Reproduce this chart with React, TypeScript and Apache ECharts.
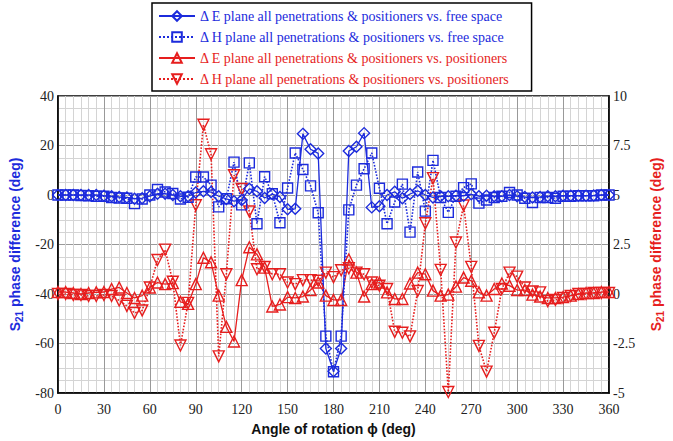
import React, { useEffect, useRef } from "react";
import * as echarts from "echarts";

const angles: number[] = Array.from({ length: 73 }, (_, i) => i * 5);

const eFreeSpace: number[] = [
  0, 0, 0, 0, 0, 0, -0.3, -0.5, -0.8, -1, -1.5, -1.3, -0.5, 0.5, 0.5, 0, -0.5, -0.5, 1, 1.5,
  1.2, -0.5, -1.6, -2.5, -2, 2.5, 1.5, -1.2, 0.4, -0.8, -5.8, -5.6, 24.7, 18.5, 16.8, -62, -71.2,
  -62, 17.8, 19.5, 25, -5, -4.5, 0, 1.3, -1.3, 0.4, 1.7, 0, -1, -0.5, -0.5, -0.3, -0.3, 0.3,
  -0.5, -0.3, -0.5, -0.5, 0, -0.5, -0.8, -1, -0.8, -0.5, -0.5, -0.3, -0.3, -0.3, -0.3, -0.2, 0, 0,
];

const hFreeSpace: number[] = [
  0, 0, 0, -0.2, -0.3, -0.5, -0.5, -1, -1.2, -1.3, -3.5, -1.6, 0, 2.2, 1.2, 0.6, -1.6, -0.9, 7.3,
  7.3, 4, -4.8, -1.5, 13.3, -4, 13, -11.6, 7.4, 0.5, -11.2, 2.8, 17, 10.3, 3.7, -7.2, -57, -71.4,
  -57, -6, 4, 10.6, 17, 2.7, -11.6, -2.8, 4.4, -15, 9.3, -6.5, 14, -1, -7, -0.5, 3, 4.5, -3.3, -2,
  -1, -0.5, 1, 0, -1.3, -3, -1, -1, -1.3, -0.5, -0.5, -0.3, -0.3, -0.3, 0, 0,
];

const ePositioners: number[] = [
  0.1, 0.1, 0.05, 0, 0.05, 0.08, 0.1, 0.25, 0.33, 0.05, -0.2, -0.08, 0.33, 0.58, 0.5, 0.55, -0.4,
  -0.5, 0.5, 1.83, 1.6, -0.08, -1.66, -2.4, 0.7, 2.36, 2, 1.33, -0.63, -0.53, -0.16, -0.2, -0.13,
  0.2, 0.58, -0.08, -0.3, -0.3, 1.74, 1.08, -0.13, 0.5, 0.58, 0.08, -0.25, -0.25, 0.53, 1.08, 1,
  0.17, -0.08, -0.03, 0.37, 0.83, 0.67, 0.08, -0.08, 0.25, 0.53, 0.42, 0.2, 0.2, -0.03, -0.13,
  -0.2, -0.2, -0.16, -0.08, 0, 0.05, 0.05, 0.1, 0.1,
];

const hPositioners: number[] = [
  0, 0, -0.05, -0.05, -0.1, -0.1, -0.05, -0.1, -0.33, -0.6, -0.96, -0.83, 0.33, 1.72, 2.24, 0.62,
  -2.6, -0.45, 4.48, 8.55, 7.06, -3.15, 1, 6, 5.3, 4.17, 1.25, 1.36, 1, 1, 0.58, 0.5, 0.7, 0.7,
  0.67, 1.08, 0.85, 1.2, 1.3, 1.08, 1, 0.58, 0.42, 0.25, -1.91, -1.96, -2.14, 0.15, 3.57, 5.85,
  1.22, -4.95, 2.6, 4.47, 1.37, -2.62, -3.92, -1.96, 0.25, 1.08, 0.88, 0.33, 0.13, 0.08, -0.36,
  -0.3, -0.2, -0.1, 0, 0, 0.05, 0.05, 0.05,
];

const seriesNames: string[] = [
  "Δ E plane all penetrations & positioners vs. free space",
  "Δ H plane all penetrations & positioners vs. free space",
  "Δ E plane all penetrations & positioners vs. positioners",
  "Δ H plane all penetrations & positioners vs. positioners",
];

const BLUE = "#1c2bdc";
const RED = "#e61e1e";
const SERIF = "Times New Roman";
const SANS = "Liberation Sans";

const zip = (vals: number[]) => angles.map((a, i) => [a, vals[i]]);

export default function App() {
  const ref = useRef<HTMLDivElement>(null);
  useEffect(() => {
    if (!ref.current) return;
    const chart = echarts.init(ref.current, null, { renderer: "svg" });
    const nameRich = (color: string) => ({
      a: { fontFamily: SANS, fontWeight: "bold", fontSize: 14, color },
      b: { fontFamily: SANS, fontWeight: "bold", fontSize: 10, color, verticalAlign: "bottom", padding: [8, 0, 0, 0] },
    });
    const labelStyle = { fontFamily: SERIF, fontSize: 14, color: "#222" };
    const mk = (
      idx: number,
      color: string,
      symbol: string,
      rotate: number,
      dotted: boolean,
      yAxisIndex: number,
      vals: number[],
      size: number
    ) => ({
      name: seriesNames[idx],
      type: "line",
      yAxisIndex,
      data: zip(vals),
      symbol,
      symbolSize: size,
      symbolRotate: rotate,
      showAllSymbol: true,
      lineStyle: { color, width: dotted ? 1.6 : 1.3, type: dotted ? "dotted" : "solid" },
      itemStyle: { color: "rgba(255,255,255,0)", borderColor: color, borderWidth: 1.4 },
      emphasis: { disabled: true },
    });
    chart.setOption({
      animation: false,
      textStyle: { fontFamily: SERIF },
      grid: {
        left: 58,
        right: 51,
        top: 96,
        bottom: 44,
        show: true,
        borderColor: "#000",
        borderWidth: 1.5,
        backgroundColor: "transparent",
      },
      legend: {
        orient: "vertical",
        left: 152,
        top: 3,
        padding: [6, 22, 5, 6],
        itemGap: 7,
        itemWidth: 36,
        itemHeight: 12,
        borderColor: "#000",
        borderWidth: 1.5,
        backgroundColor: "#fff",
        data: [
          { name: seriesNames[0], textStyle: { color: BLUE, fontFamily: SERIF, fontSize: 14 } },
          { name: seriesNames[1], textStyle: { color: BLUE, fontFamily: SERIF, fontSize: 14 } },
          { name: seriesNames[2], textStyle: { color: RED, fontFamily: SERIF, fontSize: 14 } },
          { name: seriesNames[3], textStyle: { color: RED, fontFamily: SERIF, fontSize: 14 } },
        ],
        textStyle: { fontFamily: SERIF, fontSize: 14 },
      },
      xAxis: {
        type: "value",
        min: 0,
        max: 360,
        interval: 30,
        name: "Angle of rotation ϕ (deg)",
        nameLocation: "middle",
        nameGap: 29,
        nameTextStyle: { fontFamily: SANS, fontWeight: "bold", fontSize: 14, color: "#111" },
        axisLine: { show: true, onZero: false, lineStyle: { color: "#000", width: 1.5 } },
        axisTick: { show: false },
        axisLabel: { ...labelStyle, margin: 9 },
        splitLine: { show: true, lineStyle: { color: "#999", width: 1 } },
        minorTick: { show: false, splitNumber: 6 },
        minorSplitLine: { show: true, lineStyle: { color: "#d4d4d4", width: 1 } },
      },
      yAxis: [
        {
          type: "value",
          min: -80,
          max: 40,
          interval: 20,
          name: "{a|S}{b|21}{a| phase difference (deg)}",
          nameLocation: "middle",
          nameRotate: 90,
          nameGap: 34,
          nameTextStyle: { rich: nameRich(BLUE) },
          axisLine: { show: true, onZero: false, lineStyle: { color: "#000", width: 1.5 } },
          axisTick: { show: false },
          axisLabel: { ...labelStyle, margin: 4 },
          splitLine: { show: true, lineStyle: { color: "#999", width: 1 } },
          minorTick: { show: false, splitNumber: 4 },
          minorSplitLine: { show: true, lineStyle: { color: "#d4d4d4", width: 1 } },
        },
        {
          type: "value",
          min: -5,
          max: 10,
          interval: 2.5,
          position: "right",
          name: "{a|S}{b|21}{a| phase difference (deg)}",
          nameLocation: "middle",
          nameRotate: 90,
          nameGap: 38,
          nameTextStyle: { rich: nameRich(RED) },
          axisLine: { show: true, onZero: false, lineStyle: { color: "#000", width: 1.5 } },
          axisTick: { show: false },
          axisLabel: { ...labelStyle, margin: 4 },
          splitLine: { show: false },
        },
      ],
      series: [
        mk(3, RED, "triangle", 180, true, 1, hPositioners, 11),
        mk(2, RED, "triangle", 0, false, 1, ePositioners, 11),
        mk(1, BLUE, "rect", 0, true, 0, hFreeSpace, 10),
        mk(0, BLUE, "diamond", 0, false, 0, eFreeSpace, 11),
      ],
    });
    return () => chart.dispose();
  }, []);
  return (
    <div
      ref={ref}
      style={{ position: "absolute", left: 0, top: 0, width: 673, height: 441, background: "#fff" }}
    />
  );
}
